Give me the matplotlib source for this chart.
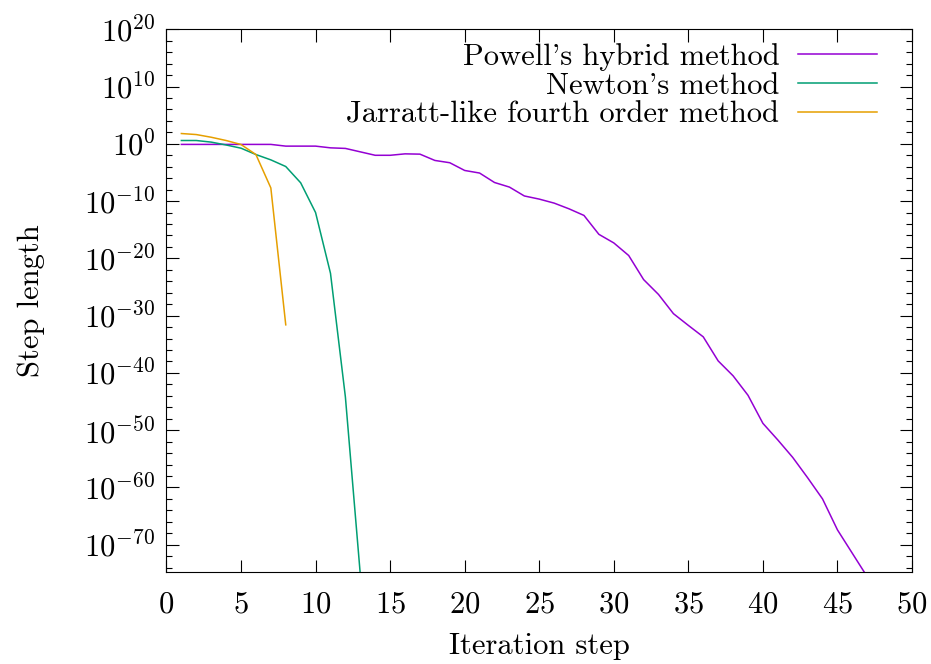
import numpy as np
import matplotlib
matplotlib.use("Agg")
import matplotlib.pyplot as plt
from matplotlib.ticker import FixedLocator, LogFormatterSciNotation, NullFormatter

plt.rcParams['font.family'] = ['cmr10', 'DejaVu Serif']
plt.rcParams['mathtext.fontset'] = 'cm'
plt.rcParams['axes.unicode_minus'] = False
plt.rcParams['axes.formatter.use_mathtext'] = True

# step lengths, stored as log10 exponents
powell_iter = list(range(1, 48))
powell_exp = [-0.1, -0.1, -0.1, -0.1, -0.1, -0.1, -0.1, -0.4, -0.4, -0.4,
              -0.7, -0.8, -1.4, -2.0, -2.0, -1.75, -1.8, -2.9, -3.3, -4.65,
              -5.1, -6.75, -7.55, -9.1, -9.65, -10.35, -11.35, -12.5, -15.8, -17.3,
              -19.5, -23.7, -26.3, -29.65, -31.7, -33.7, -37.9, -40.5, -43.9, -48.8,
              -51.7, -54.75, -58.3, -62.0, -67.4, -71.5, -75.6]

newton_iter = list(range(1, 14))
newton_exp = [0.58, 0.58, 0.3, -0.2, -0.76, -1.87, -2.8, -3.96, -6.8, -12.0,
              -22.6, -44.2, -75.2]

jarratt_iter = list(range(1, 9))
jarratt_exp = [1.8, 1.62, 1.15, 0.58, -0.12, -1.87, -7.7, -31.6]

labels = ["Powell's hybrid method", "Newton's method", "Jarratt-like fourth order method"]
colors = ['#9400D3', '#009E73', '#E69F00']

fs = 22

fig = plt.figure(figsize=(9.31, 6.64), dpi=100)
ax = fig.add_axes([0.1788, 0.1386, 0.8008, 0.8173])

ax.plot(powell_iter, 10.0 ** np.array(powell_exp), color=colors[0], lw=1.1, label=labels[0])
ax.plot(newton_iter, 10.0 ** np.array(newton_exp), color=colors[1], lw=1.1, label=labels[1])
ax.plot(jarratt_iter, 10.0 ** np.array(jarratt_exp), color=colors[2], lw=1.1, label=labels[2])

ax.set_yscale('log')
ax.set_xlim(0, 50)
ax.set_ylim(10.0 ** -74.75, 1e20)
ax.set_xticks(np.arange(0, 51, 5))
ax.yaxis.set_major_locator(FixedLocator(10.0 ** np.arange(-70, 21, 10)))
ax.yaxis.set_major_formatter(LogFormatterSciNotation())
ax.yaxis.set_minor_locator(FixedLocator(10.0 ** np.arange(-74, 21, 2)))
ax.yaxis.set_minor_formatter(NullFormatter())

ax.tick_params(which='both', direction='in', top=True, right=True, labelsize=fs, width=0.8)
ax.tick_params(which='major', length=9, pad=8)
ax.tick_params(axis='x', which='major', pad=14)
ax.tick_params(which='minor', length=4.5)

ax.set_xlabel("Iteration step", fontsize=fs, labelpad=10)
ax.set_ylabel("Step length", fontsize=fs, labelpad=28)

leg = ax.legend(loc='upper right', bbox_to_anchor=(0.953, 0.975), frameon=False,
                markerfirst=False, fontsize=fs, handlelength=2.6, handletextpad=0.6,
                labelspacing=0.05, borderaxespad=0.0, borderpad=0.0)

fig.savefig("out.png", dpi=100)
